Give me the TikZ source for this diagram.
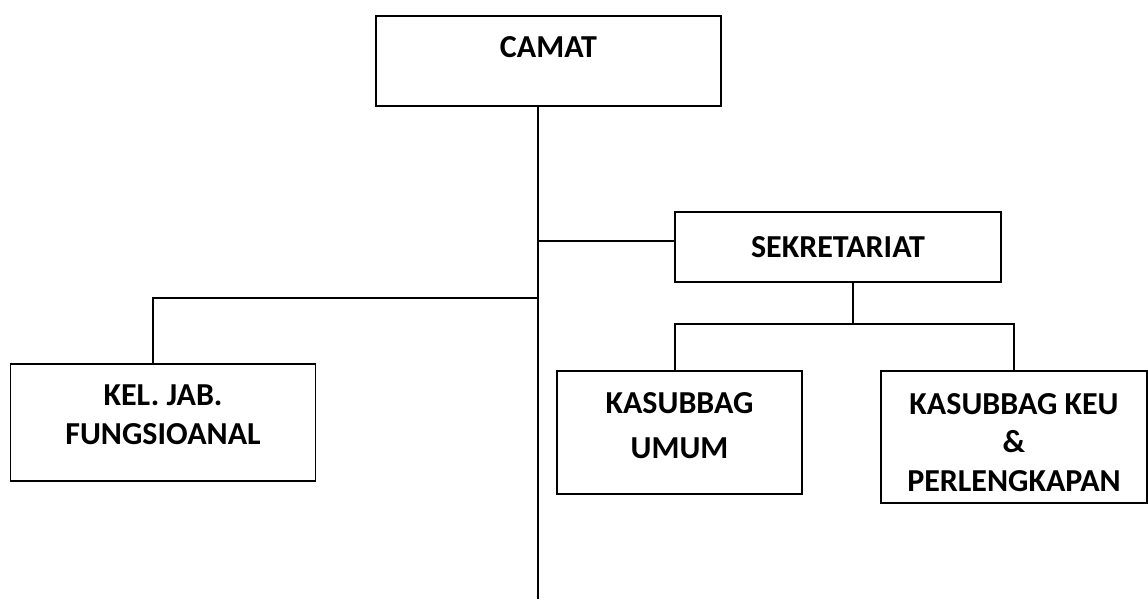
\documentclass[tikz,border=0pt]{standalone}
\usepackage{fontspec}
\setmainfont{Carlito}
\usetikzlibrary{positioning}

\tikzset{
    unitbox/.style = {draw, rectangle, line width=1pt, align=center, inner sep=0pt,
        font=\bfseries\fontsize{24}{28.8}\selectfont},
    link/.style = {line width=1.1pt}
}

\begin{document}
\begin{tikzpicture}[x=0.75pt, y=-0.75pt]
        \useasboundingbox (0,0) rectangle (1148,599);

        % boxes
        \node[unitbox, line width=1.5pt, minimum width=258.75pt, minimum height=67.5pt,
              text height=15pt, text depth=20pt] (camat) at (548.5,61) {CAMAT};
        \node[unitbox, minimum width=244.5pt, minimum height=52.5pt] (sekretariat) at (838,247) {SEKRETARIAT};
        \node[unitbox, minimum width=228.75pt, minimum height=87.75pt] (keljab) at (163,422.5)
            {KEL. JAB.\\FUNGSIOANAL\rule[-12pt]{0pt}{0pt}};
        \node[unitbox, minimum width=183.75pt, minimum height=92.25pt] (umum) at (679.5,432.5)
            {KASUBBAG\\[4.5pt]UMUM\rule[-10.5pt]{0pt}{0pt}};
        \node[unitbox, minimum width=199.5pt, minimum height=99pt] (keu) at (1014,437)
            {\rule{0pt}{24pt}KASUBBAG KEU\\\&\\PERLENGKAPAN};

        % junction points
        \coordinate (spineend) at (538,599);
        \coordinate (jsek) at (538,241);
        \coordinate (jkel) at (538,298);
        \coordinate (kelup) at (153,298);
        \coordinate (sekdown) at (853,324);
        \coordinate (forkl) at (675,324);
        \coordinate (forkr) at (1014,324);

        % connectors
        \draw[link] (camat.south -| spineend) -- (spineend);
        \draw[link] (jsek) -- (jsek -| sekretariat.west);
        \draw[link] (jkel) -- (kelup) -- (kelup |- keljab.north);
        \draw[link] (sekdown |- sekretariat.south) -- (sekdown);
        \draw[link] (forkl |- umum.north) -- (forkl) -- (forkr) -- (forkr |- keu.north);

    \end{tikzpicture}
\end{document}
